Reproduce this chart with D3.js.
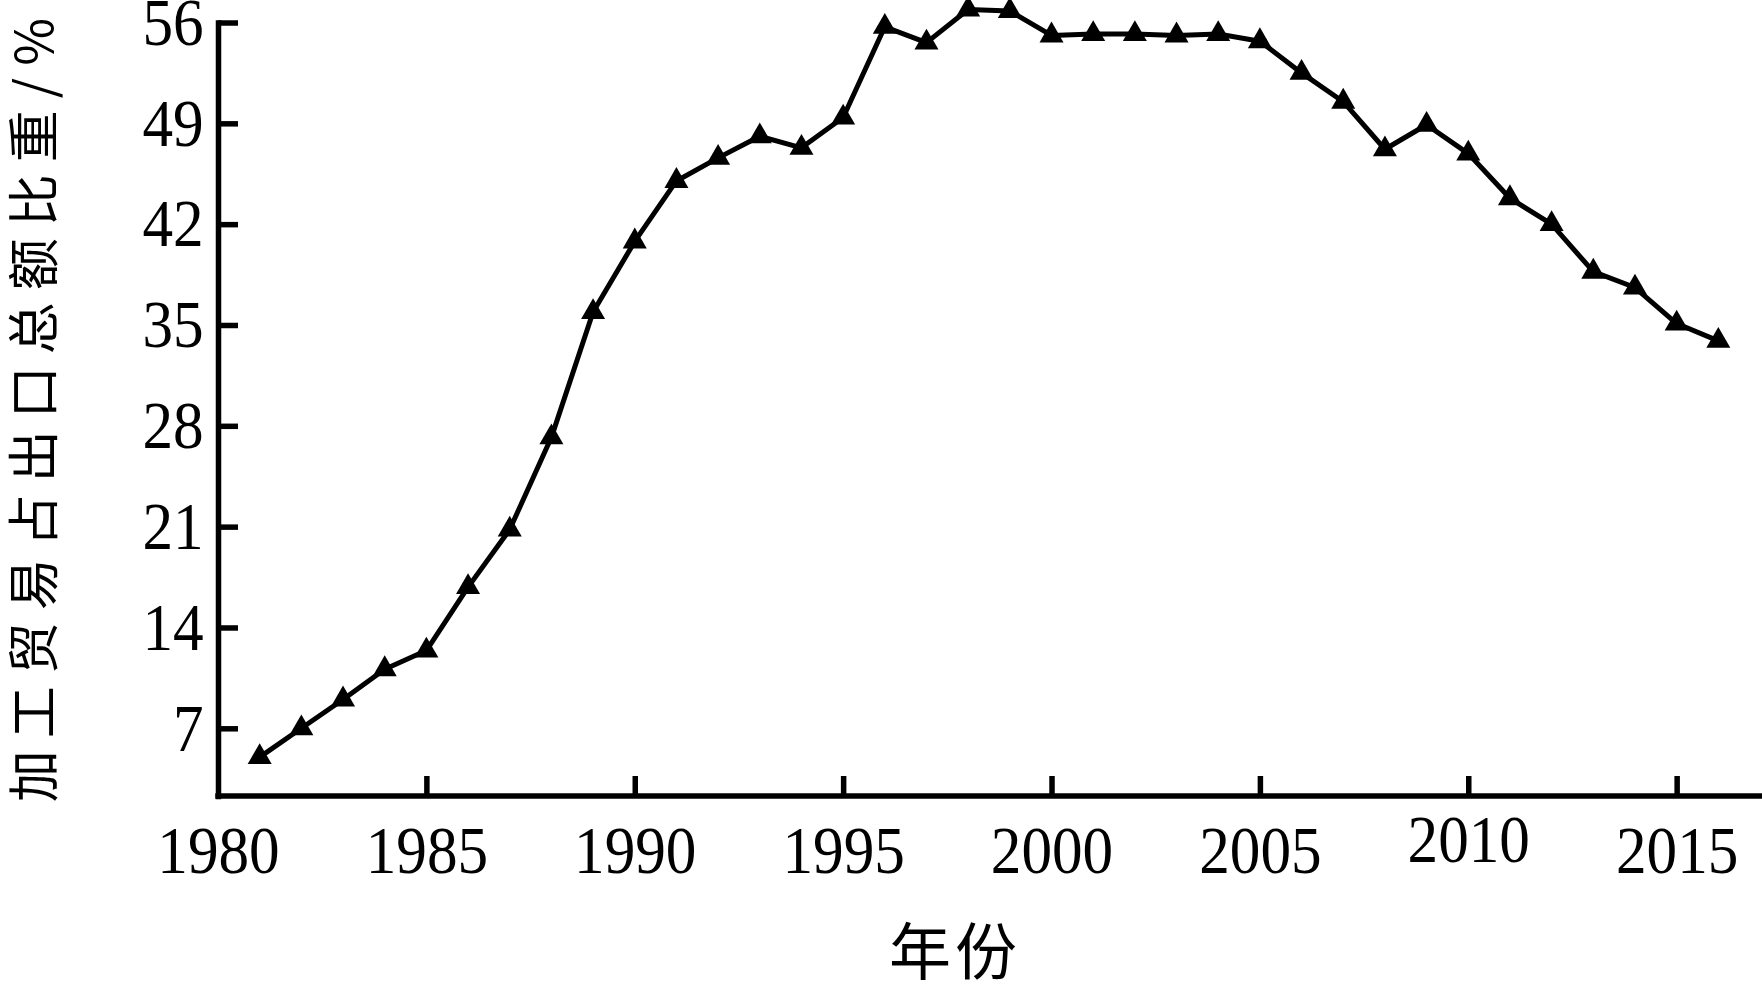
<!DOCTYPE html>
<html><head><meta charset="utf-8">
<script src="https://cdn.jsdelivr.net/npm/d3@7"></script>
<style>
html,body{margin:0;padding:0;background:#fff;}
svg{display:block;}
</style></head>
<body>
<svg id="chart" width="1762" height="986"></svg>
<script>
const years = [1981,1982,1983,1984,1985,1986,1987,1988,1989,1990,1991,1992,1993,1994,1995,1996,1997,1998,1999,2000,2001,2002,2003,2004,2005,2006,2007,2008,2009,2010,2011,2012,2013,2014,2015,2016];
const shares = [5.0,7.0,9.0,11.1,12.4,16.8,20.8,27.2,35.9,40.8,45.0,46.6,48.1,47.3,49.4,55.7,54.6,56.9,56.8,55.1,55.2,55.2,55.1,55.2,54.7,52.5,50.5,47.2,48.9,46.9,43.8,42.0,38.7,37.6,35.1,33.9];
const yTicks = [7,14,21,28,35,42,49,56];
const xTicks = [1980,1985,1990,1995,2000,2005,2010,2015];
const yTitle = "加工贸易占出口总额比重/%";
const xTitle = "年份";

const svg = d3.select("#chart");
const x = d3.scaleLinear().domain([1980, 2017]).range([218, 1760]);
const y = d3.scaleLinear().domain([2.3, 56]).range([796, 22.5]);

const serif = "'Liberation Serif','Times New Roman',serif";
const cjk = "'Noto Sans CJK SC','Noto Sans CJK JP',sans-serif";

// X axis
const gx = svg.append("g").attr("transform", `translate(0,${y(2.3)})`)
  .call(d3.axisBottom(x).tickValues(xTicks).tickFormat(d3.format("d"))
    .tickSizeInner(-20).tickSizeOuter(0).tickPadding(29));
// Y axis
const gy = svg.append("g").attr("transform", `translate(${x(1980)},0)`)
  .call(d3.axisLeft(y).tickValues(yTicks).tickFormat(d3.format("d"))
    .tickSizeInner(-20).tickSizeOuter(0).tickPadding(16));

[gx, gy].forEach(g => {
  g.select(".domain").attr("stroke", "#000").attr("stroke-width", 5.5).attr("stroke-linecap","square");
  g.selectAll(".tick line").attr("stroke", "#000").attr("stroke-width", 5.5);
  g.selectAll(".tick text").attr("fill", "#000").style("font-family", serif).style("font-size", "68px")
    .attr("transform", "scale(0.9,1)");
});
gx.select(".domain").attr("d", `M${x(1980)},0H1762`);
gx.selectAll(".tick").filter(d => d === 1980).select("line").remove();
gx.selectAll(".tick").filter(d => d === 2010).select("text").attr("dy", "0.55em");

// line
const data = years.map((yr, i) => ({yr, v: shares[i]}));
svg.append("path").datum(data)
  .attr("fill", "none").attr("stroke", "#000").attr("stroke-width", 5)
  .attr("stroke-linejoin", "round")
  .attr("d", d3.line().x(d => x(d.yr)).y(d => y(d.v)));

svg.append("g").selectAll("path").data(data).join("path")
  .attr("transform", d => `translate(${x(d.yr)},${y(d.v)})`)
  .attr("d", d3.symbol().type(d3.symbolTriangle).size(250))
  .attr("fill", "#000");

// titles
svg.append("text")
  .attr("transform", `translate(53,404) rotate(-90)`)
  .attr("text-anchor", "middle")
  .style("font-family", cjk).style("font-size", "52px").style("letter-spacing", "12px")
  .attr("fill", "#000")
  .text(yTitle);
svg.append("text")
  .attr("x", 955).attr("y", 975)
  .attr("text-anchor", "middle")
  .style("font-family", cjk).style("font-size", "62px").style("letter-spacing", "4px")
  .attr("fill", "#000")
  .text(xTitle);
</script>
</body></html>
